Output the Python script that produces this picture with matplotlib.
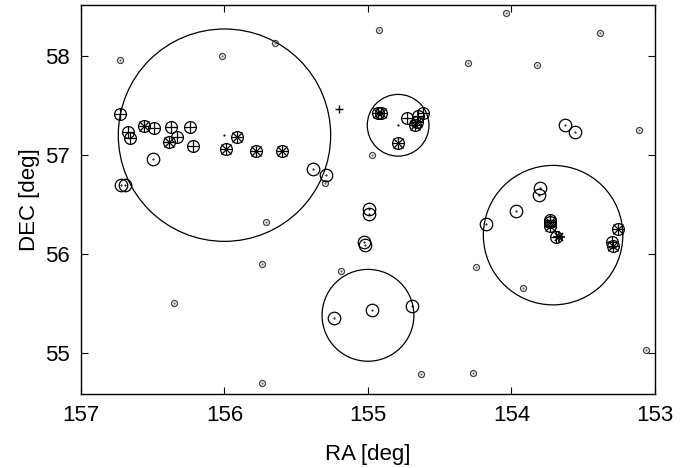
"""Sky map of sources around the survey fields (RA/DEC)."""
import matplotlib

matplotlib.use("Agg")
import matplotlib.pyplot as plt
from matplotlib.patches import Ellipse

plt.rcParams["font.family"] = ["Liberation Sans", "DejaVu Sans"]

# survey fields: centre and radius (radius in RA degrees)
field_ra = [156.00, 154.79, 153.71, 155.00]
field_dec = [57.20, 57.30, 56.19, 55.38]
field_r = [0.74, 0.215, 0.486, 0.32]

# faint background sources (small circles)
faint_ra = [156.73, 156.02, 155.65, 154.92, 154.04, 154.30, 153.82, 153.38,
            153.11, 153.06, 154.97, 155.30, 155.71, 155.74, 156.35, 155.19,
            154.25, 153.92, 154.63, 154.27, 155.74]
faint_dec = [57.96, 58.00, 58.13, 58.26, 58.43, 57.93, 57.91, 58.23,
             57.25, 55.03, 57.00, 56.72, 56.32, 55.90, 55.50, 55.83,
             55.87, 55.66, 54.79, 54.80, 54.70]

# detected sources (medium circles)
det_ra = [156.50, 156.72, 156.69, 155.38, 155.29, 154.99, 154.99, 155.03,
          155.02, 153.80, 153.81, 153.97, 154.18, 153.63, 153.56, 155.24,
          154.97, 154.69]
det_dec = [56.96, 56.70, 56.70, 56.86, 56.80, 56.45, 56.40, 56.12,
           56.09, 56.67, 56.60, 56.43, 56.30, 57.30, 57.23, 55.35,
           55.43, 55.47]

# members (circle with plus)
mem_ra = [156.73, 156.67, 156.66, 156.49, 156.37, 156.24, 156.33, 156.22,
          154.73, 154.65, 154.62, 153.73, 153.69, 153.30]
mem_dec = [57.41, 57.23, 57.17, 57.27, 57.28, 57.28, 57.18, 57.09,
           57.37, 57.39, 57.42, 56.34, 56.17, 56.12]

# confirmed members (circle with asterisk)
conf_ra = [156.56, 156.39, 155.91, 155.99, 155.78, 155.60, 154.93, 154.91,
           154.67, 154.66, 154.79, 153.73, 153.73, 153.26, 153.29]
conf_dec = [57.29, 57.13, 57.18, 57.06, 57.04, 57.04, 57.42, 57.42,
            57.30, 57.33, 57.12, 56.32, 56.28, 56.25, 56.08]

# single markers
plus_ra, plus_dec = [155.20], [57.46]
ast_ra, ast_dec = [153.67], [56.17]

fig = plt.figure(figsize=(6.97, 4.68), dpi=100)
ax = fig.add_axes([0.1162, 0.1581, 0.8235, 0.8312])
ax.set_xlim(157, 153)
ax.set_ylim(54.585, 58.515)

# make the field circles round on screen
w_px = 0.8235 * 697
h_px = 0.8312 * 468
stretch = (w_px / 4.0) / (h_px / (58.515 - 54.585))
for ra, dec, r in zip(field_ra, field_dec, field_r):
    ax.add_patch(Ellipse((ra, dec), 2 * r, 2 * r * stretch, fill=False,
                         ec="black", lw=0.9))
ax.plot(field_ra[:2], field_dec[:2], ".", color="black", ms=1.2)

ax.plot(faint_ra, faint_dec, "o", mfc="none", mec="0.25", ms=4.3, mew=0.9)
ax.plot(faint_ra, faint_dec, ".", color="0.3", ms=1.0)

ax.plot(det_ra, det_dec, "o", mfc="none", mec="black", ms=9.0, mew=0.9)
ax.plot(det_ra, det_dec, ".", color="black", ms=1.0)

ax.plot(mem_ra, mem_dec, "o", mfc="none", mec="black", ms=8.5, mew=0.9)
ax.plot(mem_ra, mem_dec, "+", color="black", ms=8.5, mew=0.9)

ax.plot(conf_ra, conf_dec, "o", mfc="none", mec="black", ms=8.5, mew=0.9)
ax.plot(conf_ra, conf_dec, "+", color="black", ms=8.5, mew=0.9)
ax.plot(conf_ra, conf_dec, "x", color="black", ms=6.5, mew=0.9)

ax.plot(plus_ra, plus_dec, "+", color="black", ms=6, mew=1.0)
ax.plot(ast_ra, ast_dec, "+", color="black", ms=8, mew=1.2)
ax.plot(ast_ra, ast_dec, "x", color="black", ms=6, mew=1.2)

ax.set_xticks([157, 156, 155, 154, 153])
ax.set_yticks([55, 56, 57, 58])
ax.tick_params(direction="in", length=5, width=0.8, labelsize=16,
               top=True, right=True, pad=8)
for s in ax.spines.values():
    s.set_linewidth(1.0)
ax.set_xlabel("RA [deg]", fontsize=16, labelpad=13)
ax.set_ylabel("DEC [deg]", fontsize=16, labelpad=4)

fig.savefig("out.png", dpi=100)
